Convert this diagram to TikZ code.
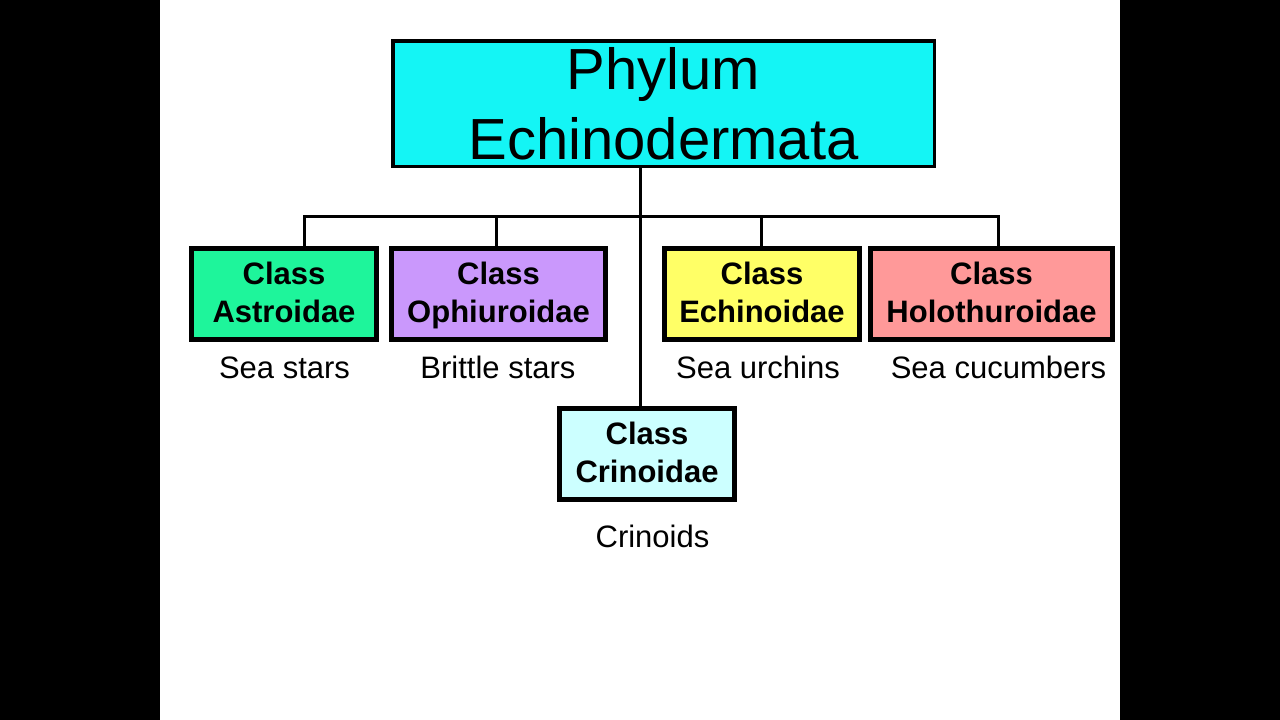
\documentclass[tikz,border=0pt]{standalone}
\usepackage{fontspec}
\setmainfont{Liberation Sans}
\definecolor{phylumcol}{RGB}{20,245,245}
\definecolor{astcol}{RGB}{30,245,155}
\definecolor{ophcol}{RGB}{202,152,252}
\definecolor{echcol}{RGB}{255,255,102}
\definecolor{holcol}{RGB}{255,153,153}
\definecolor{crincol}{RGB}{204,255,255}
\tikzset{
  phylumbox/.style={draw=black, line width=3.5pt, fill=phylumcol, inner sep=0pt,
    align=center, font=\fontsize{58}{70}\selectfont, text height=111.5pt, text depth=0pt},
  classbox/.style={draw=black, line width=5pt, inner sep=0pt, minimum height=91pt,
    align=center, font=\fontsize{31}{38}\selectfont\bfseries, text height=58pt, text depth=2pt},
  commonname/.style={anchor=base, inner sep=0pt, font=\fontsize{31}{38}\selectfont},
  link/.style={draw=black, line width=3pt}
}
\begin{document}
\begin{tikzpicture}[x=1pt,y=-1pt]
\useasboundingbox (0,0) rectangle (1280,720);
\fill[black] (0,0) rectangle (160,720);
\fill[white] (160,0) rectangle (1120,720);
\fill[black] (1120,0) rectangle (1280,720);

\node[phylumbox, minimum width=541.5pt, minimum height=125.5pt] (phylum) at (663.5,103.5) {Phylum\\Echinodermata};

\node[classbox, fill=astcol, minimum width=185pt] (ast) at (284,294) {Class\\Astroidae};
\node[classbox, fill=ophcol, minimum width=214pt] (oph) at (498.5,294) {Class\\Ophiuroidae};
\node[classbox, fill=echcol, minimum width=195pt] (ech) at (762,294) {Class\\Echinoidae};
\node[classbox, fill=holcol, minimum width=242pt] (hol) at (991.5,294) {Class\\Holothuroidae};
\node[classbox, fill=crincol, minimum width=175pt] (crin) at (647,454) {Class\\Crinoidae};

\node[commonname] (astname) at (284.5,378) {Sea stars};
\node[commonname] (ophname) at (498,378) {Brittle stars};
\node[commonname] (echname) at (758,378) {Sea urchins};
\node[commonname] (holname) at (998.5,378) {Sea cucumbers};
\node[commonname] (crinname) at (652.5,547) {Crinoids};

\coordinate (trunk) at (640,216);
\coordinate (dA) at (304,216);
\coordinate (dO) at (496,216);
\coordinate (dE) at (761,216);
\coordinate (dH) at (998,216);

\draw[link] (phylum.south -| trunk) -- (crin.north -| trunk);
\draw[link, line cap=rect] (dA) -- (dH);
\draw[link] (dA) -- (dA |- ast.north);
\draw[link] (dO) -- (dO |- oph.north);
\draw[link] (dE) -- (dE |- ech.north);
\draw[link] (dH) -- (dH |- hol.north);
\end{tikzpicture}
\end{document}
